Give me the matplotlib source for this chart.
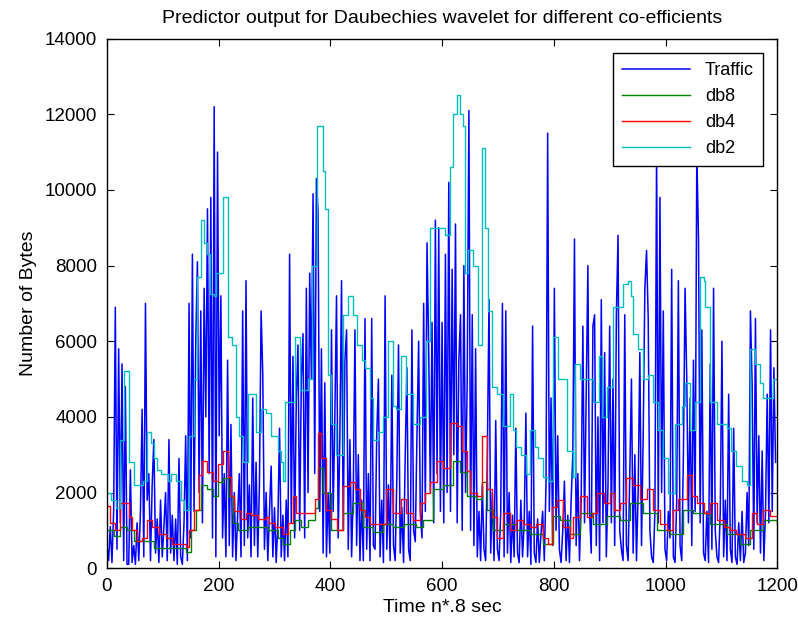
import numpy as np
import matplotlib
matplotlib.use('Agg')
import matplotlib.pyplot as plt

# Traffic, every 3 samples
traffic_step = 3
traffic = [
    600, 200, 1100, 150, 1500, 6900, 500, 5800, 1200, 5400,
    200, 4800, 100, 100, 2600, 150, 600, 100, 1200, 200,
    1500, 4200, 300, 7000, 1800, 2500, 200, 2200, 3400, 400,
    1300, 150, 1800, 300, 1100, 2000, 200, 3400, 400, 1400,
    200, 1300, 100, 2900, 300, 100, 1200, 3500, 200, 7000,
    800, 8300, 1500, 6000, 8100, 2000, 6800, 1200, 7400, 4000,
    9500, 2500, 9800, 800, 12200, 300, 11000, 3500, 7200, 800,
    2500, 300, 5500, 600, 3800, 300, 2000, 200, 1400, 2500,
    300, 6800, 600, 7600, 800, 2200, 300, 4500, 600, 2800,
    300, 2200, 6800, 5100, 500, 2000, 200, 1500, 2700, 300,
    1600, 150, 1200, 3700, 300, 1400, 200, 1800, 300, 8300,
    1200, 5600, 800, 4500, 5900, 1000, 5000, 6200, 800, 7400,
    2000, 7800, 5000, 9900, 2500, 10300, 9400, 1500, 5800, 400,
    4900, 300, 2000, 400, 6300, 1500, 4000, 7200, 800, 3500,
    7600, 1000, 5500, 6300, 500, 3400, 300, 2000, 6300, 600,
    3000, 200, 1800, 200, 6600, 500, 2500, 200, 6600, 600,
    500, 3500, 5000, 300, 1800, 150, 7200, 500, 2200, 200,
    5100, 600, 200, 2400, 5900, 400, 1600, 150, 3000, 5300,
    500, 200, 6300, 1000, 700, 3500, 6000, 1500, 800, 7000,
    1500, 8600, 5800, 2000, 6500, 1200, 9200, 2500, 9000, 1500,
    6500, 1200, 8300, 2000, 10200, 1500, 7900, 3000, 9100, 1200,
    5500, 6700, 1000, 8000, 2000, 5000, 12100, 1000, 6700, 600,
    5800, 300, 1500, 200, 2200, 500, 200, 3000, 7100, 400,
    2000, 200, 3900, 500, 200, 1500, 7000, 300, 6800, 400,
    2000, 150, 1400, 300, 3700, 400, 150, 1800, 300, 1200,
    4100, 300, 1500, 100, 6400, 400, 150, 1300, 150, 900,
    1500, 200, 2200, 11500, 1500, 4500, 600, 7400, 1000, 3500,
    500, 150, 1000, 2300, 200, 1400, 150, 1800, 3000, 8700,
    600, 2500, 200, 1800, 6400, 1200, 4500, 8000, 1500, 400,
    6400, 6700, 600, 4000, 200, 7100, 1200, 5700, 300, 2200,
    6400, 1200, 5000, 600, 6700, 8800, 1000, 500, 200, 6700,
    600, 200, 2500, 5000, 400, 3000, 200, 2000, 5700, 600,
    3500, 7400, 8400, 6600, 1000, 300, 150, 1500, 11000, 1200,
    9800, 2000, 6800, 500, 200, 1500, 800, 7900, 300, 150,
    1800, 7600, 600, 200, 3000, 7400, 5000, 1200, 4500, 600,
    5500, 1500, 11000, 8700, 1200, 6300, 400, 200, 1500, 150,
    5400, 500, 7400, 1000, 300, 150, 1500, 6000, 300, 1800,
    200, 4600, 500, 150, 3700, 300, 100, 1200, 200, 1500,
    150, 400, 2000, 600, 6800, 4900, 500, 6600, 1200, 3500,
    400, 3100, 200, 1500, 4600, 1200, 6300, 1500, 5300, 2800,
]

# db8 predictor: step knots (sample, bytes)
db8_x = [0, 12, 24, 36, 48, 66, 84, 141, 150, 159, 168, 180, 189, 198, 207,
         216, 225, 234, 252, 270, 288, 306, 315, 327, 336, 348, 360, 372, 378,
         387, 402, 423, 441, 459, 477, 495, 513, 531, 554, 566, 584, 602, 620,
         632, 645, 660, 671, 680, 692, 709, 733, 757, 781, 799, 811, 829, 847,
         871, 895, 919, 936, 960, 984, 1008, 1032, 1050, 1080, 1110, 1134,
         1151, 1175, 1200]
db8_y = [1000, 850, 1090, 1000, 720, 720, 540, 440, 1000, 1550, 2200, 2100,
         1900, 2280, 2380, 1900, 1200, 1000, 1100, 1100, 1000, 800, 640, 1000,
         1270, 1100, 1270, 1600, 2650, 2000, 1000, 1460, 1730, 1100, 950, 1180,
         1100, 1180, 1100, 1270, 2100, 2200, 2830, 2550, 1900, 1820, 2280, 1550,
         1000, 1180, 1000, 900, 640, 1370, 1270, 900, 1460, 1180, 1370, 1280,
         1730, 1460, 1000, 900, 1550, 1460, 1180, 900, 630, 1000, 1270, 1180]

# db4 predictor
db4_x = [0, 6, 15, 24, 39, 45, 54, 63, 72, 81, 93, 105, 117, 141, 147, 156,
         165, 171, 180, 189, 198, 207, 216, 222, 228, 240, 249, 258, 270, 285,
         291, 300, 315, 324, 333, 339, 348, 360, 372, 378, 384, 393, 402, 411,
         423, 435, 444, 453, 462, 471, 489, 500, 512, 527, 536, 548, 560, 569,
         578, 590, 602, 614, 626, 635, 644, 650, 662, 671, 680, 689, 698, 709,
         721, 733, 745, 757, 769, 781, 790, 796, 805, 817, 829, 835, 847, 859,
         868, 877, 889, 901, 907, 919, 930, 942, 954, 966, 978, 990, 1002,
         1014, 1023, 1038, 1047, 1056, 1068, 1080, 1092, 1104, 1116, 1127,
         1142, 1154, 1163, 1175, 1187, 1200]
db4_y = [1640, 1200, 1000, 1730, 1360, 1000, 720, 800, 1270, 1100, 900, 800,
         630, 550, 1000, 1550, 2470, 2830, 2550, 2300, 2750, 3100, 2400, 1900,
         1500, 1300, 1460, 1400, 1300, 1350, 1200, 1100, 900, 1200, 1900, 1450,
         1450, 1450, 1820, 3570, 2900, 1550, 1300, 1000, 2180, 2280, 2100, 1550,
         1350, 1180, 1180, 2100, 1450, 1820, 1450, 1270, 1730, 2000, 2280, 2830,
         2650, 3850, 3750, 3100, 2560, 2000, 1900, 3500, 2100, 1350, 810, 1460,
         1000, 1270, 1180, 1100, 1180, 810, 630, 1630, 1800, 1100, 810, 1350,
         1900, 1350, 1450, 2000, 1730, 2000, 1550, 1730, 2380, 2200, 1820, 2100,
         1550, 1180, 1000, 1550, 1820, 2460, 1900, 1730, 1460, 1730, 1270, 1100,
         1000, 900, 810, 1460, 1180, 1550, 1370, 1370]

# db2 predictor
db2_x = [0, 8, 16, 24, 30, 40, 48, 64, 72, 78, 84, 90, 96, 110, 114, 124, 132,
         138, 147, 156, 162, 168, 174, 180, 185, 192, 195, 208, 217, 224, 231,
         237, 243, 252, 262, 266, 276, 285, 294, 306, 312, 315, 318, 336, 346,
         352, 360, 368, 376, 386, 390, 396, 402, 410, 423, 432, 441, 447, 456,
         462, 471, 477, 486, 495, 503, 512, 518, 527, 536, 548, 560, 572, 578,
         605, 614, 620, 626, 632, 638, 641, 647, 656, 665, 672, 677, 683, 689,
         698, 709, 721, 727, 733, 742, 751, 757, 766, 772, 781, 790, 799, 808,
         823, 835, 838, 847, 871, 880, 886, 895, 906, 924, 933, 939, 942, 951,
         960, 969, 978, 987, 996, 1005, 1017, 1029, 1035, 1044, 1053, 1061,
         1068, 1071, 1080, 1092, 1110, 1118, 1127, 1136, 1145, 1151, 1160,
         1169, 1175, 1181, 1193, 1200]
db2_y = [2000, 1800, 1600, 3400, 5200, 2800, 2200, 2300, 3600, 3300, 2900,
         2600, 2500, 2300, 2500, 2300, 1800, 1550, 3500, 5000, 7700, 9200, 8600,
         8300, 7250, 7200, 7800, 9800, 6100, 5900, 4000, 3500, 2800, 4600, 4600,
         3600, 4200, 4100, 3500, 3100, 2800, 2300, 4400, 6100, 4700, 4700, 5000,
         8000, 11700, 10500, 9500, 5100, 3800, 3000, 6700, 7200, 6700, 5900,
         5500, 5300, 4500, 3400, 3600, 4000, 6000, 4300, 4200, 5600, 4600, 3800,
         4000, 6000, 9000, 8800, 10600, 12000, 12500, 12000, 11700, 7800, 8400,
         8000, 5900, 11100, 9000, 6800, 4800, 4600, 3750, 4600, 3650, 3200,
         3000, 2500, 3650, 3200, 2900, 2400, 2300, 6100, 5000, 3100, 2400, 5400,
         5000, 4400, 5600, 4000, 4800, 6900, 7500, 7600, 7200, 6200, 5800, 5000,
         5100, 4400, 3650, 2900, 2000, 3800, 4300, 4900, 3650, 4400, 7700, 7600,
         6900, 4400, 3800, 3700, 3100, 2700, 2300, 2200, 5800, 5400, 4900, 4500,
         4500, 5000, 5000]

plt.rcParams['font.family'] = ['Liberation Sans', 'DejaVu Sans']

fig = plt.figure(figsize=(7.98, 6.23), dpi=100)
ax = fig.add_axes([0.134, 0.088, 0.840, 0.850])

t = np.arange(len(traffic)) * traffic_step
ax.plot(t, traffic, color=(0, 0, 1), lw=1.1, label='Traffic')
ax.step(db8_x, db8_y, where='post', color=(0, 0.5, 0), lw=1.0, label='db8')
ax.step(db4_x, db4_y, where='post', color=(1, 0, 0), lw=1.0, label='db4')
ax.step(db2_x, db2_y, where='post', color=(0, 0.75, 0.75), lw=1.0, label='db2')

ax.set_xlim(0, 1200)
ax.set_ylim(0, 14000)
ax.set_xticks(np.arange(0, 1201, 200))
ax.set_yticks(np.arange(0, 14001, 2000))
ax.tick_params(direction='in', top=True, right=True, length=5, labelsize=13.5, pad=7)
for s in ax.spines.values():
    s.set_linewidth(1.0)

ax.set_title('Predictor output for Daubechies wavelet for different co-efficients',
             fontsize=14, pad=11)
ax.set_xlabel('Time n*.8 sec', fontsize=14, labelpad=3)
ax.set_ylabel('Number of Bytes', fontsize=14, labelpad=6)

leg = ax.legend(loc='upper right', fancybox=False, framealpha=1, edgecolor='black',
                handlelength=3.8, fontsize=13, borderaxespad=0.8, labelspacing=0.5,
                borderpad=0.5)
leg.get_frame().set_linewidth(1.0)

fig.savefig('out.png', dpi=100)
